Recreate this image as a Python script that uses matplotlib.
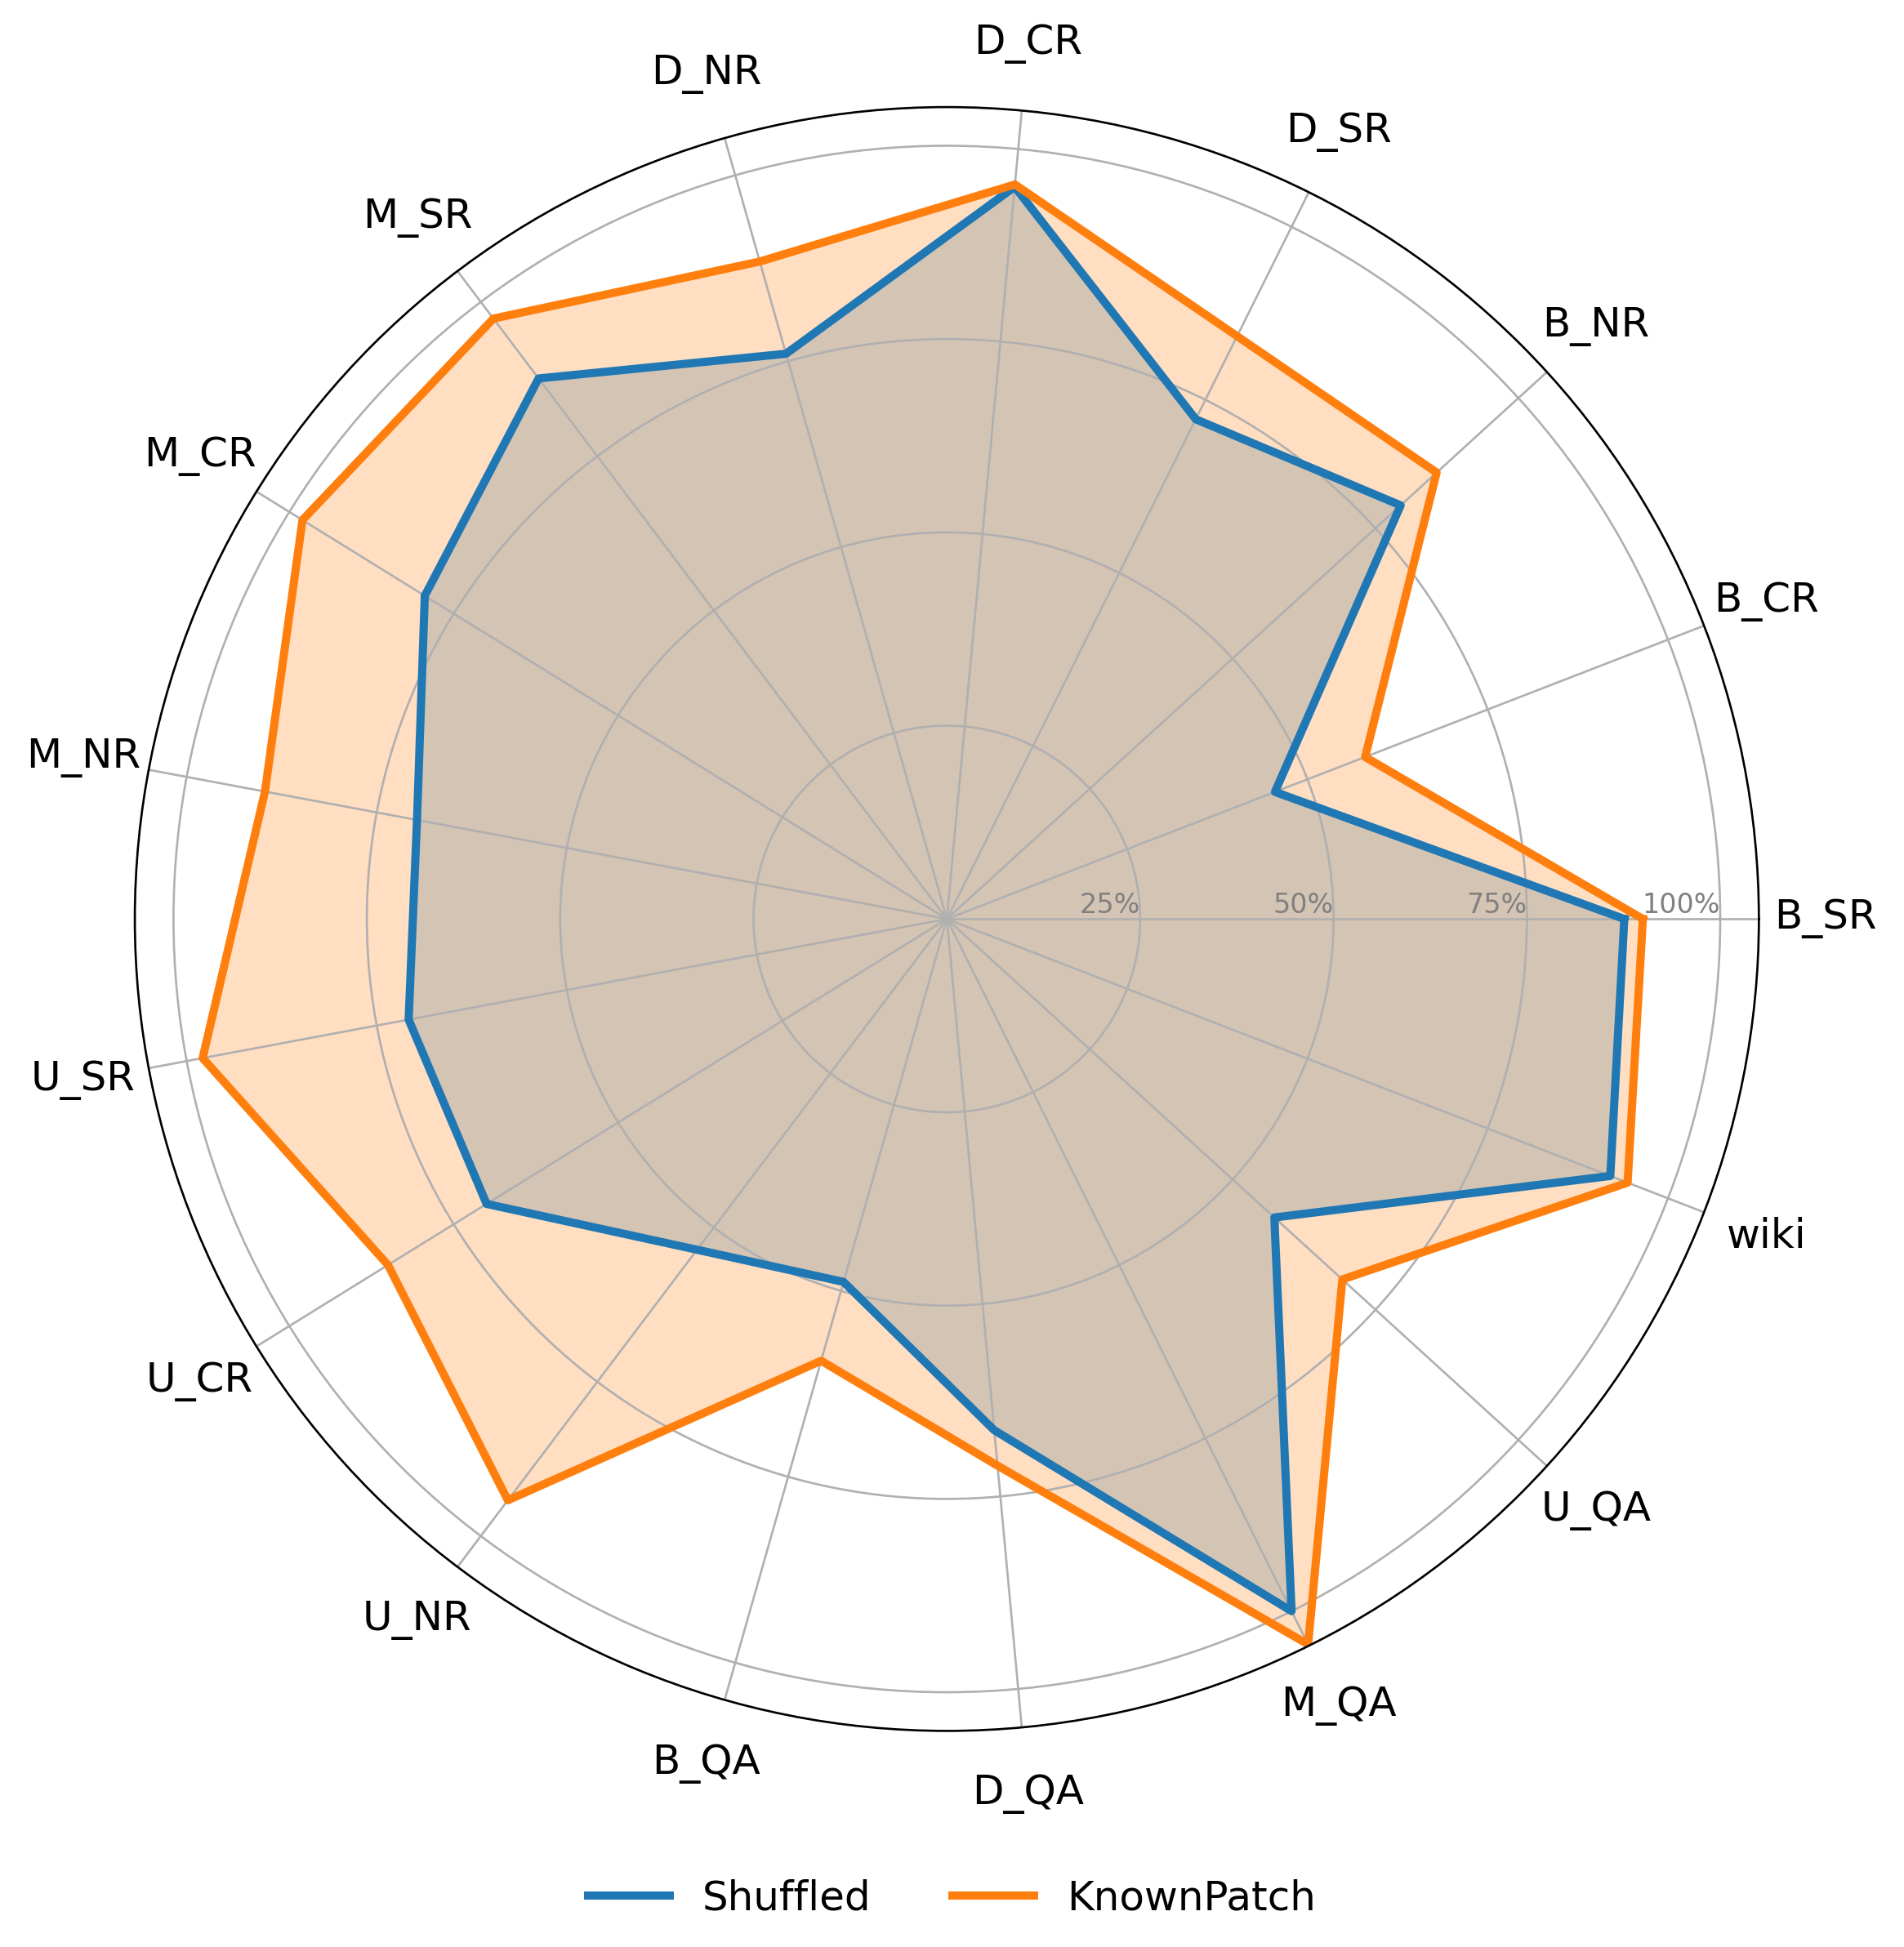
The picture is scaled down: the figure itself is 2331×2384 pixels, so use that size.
import numpy as np
import matplotlib.pyplot as plt

categories = ['B_SR', 'B_CR', 'B_NR', 'D_SR', 'D_CR', 'D_NR', 'M_SR', 'M_CR', 'M_NR',
              'U_SR', 'U_CR', 'U_NR', 'B_QA', 'D_QA', 'M_QA', 'U_QA', 'wiki']
shuffled = [87.6, 45.5, 79.4, 72.2, 95.1, 76.0, 87.6, 79.4, 69.7,
            70.8, 70.0, 53.6, 48.8, 66.4, 100.0, 57.3, 92.0]
known_patch = [90.0, 58.0, 85.7, 84.2, 95.4, 88.4, 97.3, 98.0, 89.7,
               97.9, 85.0, 94.2, 59.4, 71.0, 104.8, 69.2, 94.4]
rticks = [25, 50, 75, 100]
rlabels = ['25%', '50%', '75%', '100%']

n = len(categories)
ang = np.linspace(0, 2 * np.pi, n, endpoint=False).tolist()
ang_c = ang + ang[:1]
s_c = shuffled + shuffled[:1]
k_c = known_patch + known_patch[:1]

fig = plt.figure(figsize=(2331 / 240, 2384 / 240), dpi=240)
ax = fig.add_axes([0.0708, 0.111, 0.853, 0.834], polar=True)

ax.fill(ang_c, s_c, color='tab:blue', alpha=0.25)
ax.fill(ang_c, k_c, color='tab:orange', alpha=0.25)
ax.plot(ang_c, s_c, color='tab:blue', linewidth=3, label='Shuffled')
ax.plot(ang_c, k_c, color='tab:orange', linewidth=3, label='KnownPatch')

ax.set_ylim(0, 105)
ax.set_xticks(ang)
ax.set_xticklabels(categories, fontsize=15)
ax.tick_params(axis='x', pad=14)
ax.set_yticks(rticks)
ax.set_yticklabels([])
for r, lab in zip(rticks, rlabels):
    ax.text(0, r, lab, ha='right', va='bottom', fontsize=10, color='gray')
ax.grid(color='#b0b0b0', linewidth=0.8)

fig.legend(loc='lower center', ncol=2, frameon=False, fontsize=15,
           bbox_to_anchor=(0.5, -0.004))

plt.savefig('out.png', dpi=240)
